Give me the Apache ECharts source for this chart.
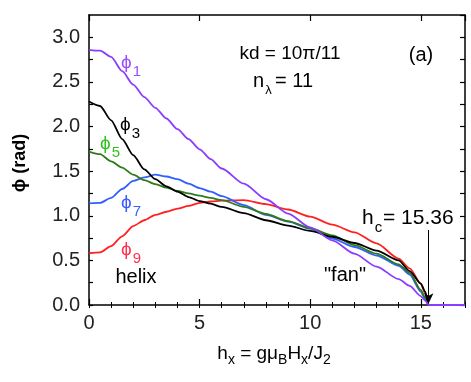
<!DOCTYPE html>
<html>
<head>
<meta charset="utf-8">
<script src="https://cdn.jsdelivr.net/npm/echarts@6/dist/echarts.min.js"></script>
<style>
  html, body { margin: 0; padding: 0; background: #fff; }
  #chart { width: 471px; height: 382px; }
</style>
</head>
<body>
<div id="chart"></div>
<script>
  // field h_x values shared by all curves
  var hGrid = [0, 0.5, 1, 1.5, 2, 2.5, 3, 3.5, 4, 4.5, 5, 5.5, 6, 7, 8, 9, 10, 11, 12, 13, 14, 14.5, 15, 15.2, 15.36, 17];

  // phi_n (rad)
  var phi1 = [2.86, 2.85, 2.78, 2.62, 2.47, 2.33, 2.21, 2.09, 1.97, 1.86, 1.745, 1.635, 1.53, 1.36, 1.185, 1.025, 0.87, 0.725, 0.575, 0.43, 0.29, 0.215, 0.10, 0.05, 0, 0];
  var phi3 = [2.28, 2.23, 2.07, 1.86, 1.68, 1.52, 1.41, 1.33, 1.27, 1.21, 1.165, 1.135, 1.10, 1.03, 0.95, 0.89, 0.83, 0.765, 0.695, 0.61, 0.50, 0.38, 0.24, 0.15, 0, 0];
  var phi5 = [1.72, 1.69, 1.61, 1.54, 1.46, 1.40, 1.355, 1.315, 1.28, 1.25, 1.225, 1.20, 1.175, 1.10, 1.02, 0.94, 0.86, 0.78, 0.67, 0.575, 0.455, 0.36, 0.17, 0.08, 0, 0];
  var phi7 = [1.14, 1.145, 1.20, 1.30, 1.39, 1.43, 1.46, 1.44, 1.41, 1.36, 1.31, 1.27, 1.22, 1.12, 1.01, 0.935, 0.855, 0.745, 0.65, 0.555, 0.44, 0.34, 0.15, 0.07, 0, 0];
  var phi9 = [0.58, 0.59, 0.66, 0.77, 0.885, 0.95, 1.01, 1.045, 1.08, 1.11, 1.145, 1.16, 1.17, 1.175, 1.13, 1.07, 0.99, 0.90, 0.815, 0.69, 0.52, 0.41, 0.24, 0.13, 0, 0];

  var hc = 15.36;
  var font = 'Liberation Sans, Arial, sans-serif';

  function pairs(ys) {
    return hGrid.map(function (h, i) { return [h, ys[i]]; });
  }

  // curve colours, drawn bottom to top
  var curves = [
    { name: 'phi9', data: phi9, color: '#ff2020' },
    { name: 'phi7', data: phi7, color: '#3060ff' },
    { name: 'phi5', data: phi5, color: '#2e7a1c' },
    { name: 'phi3', data: phi3, color: '#000000' },
    { name: 'phi1', data: phi1, color: '#8a3cff' }
  ];

  // label with subscript, placed in pixels
  function subLabel(x, y, main, sub, color, size, subSize) {
    return [
      { type: 'text', x: x, y: y, z: 100,
        style: { text: main, fill: color, font: size + 'px ' + font, textVerticalAlign: 'middle' } },
      { type: 'text', x: x + main.length * size * 0.56 + 1, y: y + size * 0.45, z: 100,
        style: { text: sub, fill: color, font: subSize + 'px ' + font, textVerticalAlign: 'middle' } }
    ];
  }

  var graphics = [];
  graphics = graphics.concat(subLabel(121, 63, 'ϕ', '1', '#9a4dff', 19, 15));
  graphics = graphics.concat(subLabel(120, 125, 'ϕ', '3', '#000', 19, 15));
  graphics = graphics.concat(subLabel(100, 144, 'ϕ', '5', '#30c020', 19, 15));
  graphics = graphics.concat(subLabel(121, 203, 'ϕ', '7', '#3a5cff', 19, 15));
  graphics = graphics.concat(subLabel(121, 250, 'ϕ', '9', '#ff3050', 19, 15));
  graphics = graphics.concat(subLabel(253, 81, 'n', 'λ', '#000', 20, 13));
  graphics = graphics.concat(subLabel(362, 218, 'h', 'c', '#000', 21, 15));
  graphics.push(
    { type: 'text', x: 275, y: 81, z: 100, style: { text: '= 11', fill: '#000', font: '20px ' + font, textVerticalAlign: 'middle' } },
    { type: 'text', x: 383, y: 218, z: 100, style: { text: '= 15.36', fill: '#000', font: '21px ' + font, textVerticalAlign: 'middle' } },
    { type: 'text', x: 290, y: 54, z: 100, style: { text: 'kd = 10π/11', fill: '#000', font: '19px ' + font, align: 'center', textVerticalAlign: 'middle' } },
    { type: 'text', x: 421, y: 55, z: 100, style: { text: '(a)', fill: '#000', font: '20px ' + font, align: 'center', textVerticalAlign: 'middle' } },
    { type: 'text', x: 136, y: 277, z: 100, style: { text: 'helix', fill: '#000', font: '20px ' + font, align: 'center', textVerticalAlign: 'middle' } },
    { type: 'text', x: 345, y: 275, z: 100, style: { text: '"fan"', fill: '#000', font: '20px ' + font, align: 'center', textVerticalAlign: 'middle' } },
    { type: 'text', x: 20, y: 163, rotation: Math.PI / 2, z: 100,
      style: { text: 'ϕ (rad)', fill: '#000', font: 'bold 18px ' + font, align: 'center', textVerticalAlign: 'middle' } },
    { type: 'text', x: 274, y: 354, z: 100,
      style: {
        text: '{m|h}{s|x}{m| = gμ}{s|B}{m|H}{s|x}{m|/J}{s|2}',
        align: 'center', textVerticalAlign: 'middle',
        rich: {
          m: { fontSize: 19, fontFamily: font, fill: '#000', color: '#000' },
          s: { fontSize: 14, fontFamily: font, fill: '#000', color: '#000', padding: [12, 0, 0, 0] }
        }
      } }
  );

  var axisLine = { show: true, onZero: false, lineStyle: { color: '#000', width: 1.5 } };

  var chart = echarts.init(document.getElementById('chart'));
  var option = {
    backgroundColor: '#fff',
    animation: false,
    grid: { left: 89, right: 6, top: 15, bottom: 77 },
    xAxis: [
      { type: 'value', min: 0, max: 17, interval: 5, position: 'bottom',
        axisLine: axisLine, splitLine: { show: false },
        axisTick: { inside: true, length: 6, lineStyle: { color: '#000', width: 1.2 } },
        axisLabel: { margin: 8, fontSize: 20, color: '#222', fontFamily: font, showMaxLabel: false } },
      { type: 'value', min: 0, max: 17, interval: 1, position: 'bottom',
        axisLine: { show: false }, splitLine: { show: false }, axisLabel: { show: false },
        axisTick: { inside: true, length: 3, lineStyle: { color: '#000', width: 1 } } },
      { type: 'value', min: 0, max: 17, interval: 5, position: 'top',
        axisLine: axisLine, splitLine: { show: false }, axisLabel: { show: false },
        axisTick: { inside: true, length: 6, lineStyle: { color: '#000', width: 1.2 } } },
      { type: 'value', min: 0, max: 17, interval: 1, position: 'top',
        axisLine: { show: false }, splitLine: { show: false }, axisLabel: { show: false },
        axisTick: { inside: true, length: 3, lineStyle: { color: '#000', width: 1 } } }
    ],
    yAxis: [
      { type: 'value', min: 0, max: 3.25, interval: 0.25, position: 'left',
        axisLine: axisLine, splitLine: { show: false },
        axisTick: { inside: true, length: 4, lineStyle: { color: '#000', width: 1.2 } },
        axisLabel: { margin: 9, fontSize: 20, color: '#222', fontFamily: font, showMaxLabel: false,
          formatter: function (v) { return Math.abs(v * 2 - Math.round(v * 2)) < 1e-6 ? v.toFixed(1) : ''; } } },
      { type: 'value', min: 0, max: 3.25, interval: 0.25, position: 'right',
        axisLine: axisLine, splitLine: { show: false }, axisLabel: { show: false },
        axisTick: { inside: true, length: 5, lineStyle: { color: '#000', width: 1.2 } } }
    ],
    series: curves.map(function (c, i) {
      var s = {
        name: c.name, type: 'line', xAxisIndex: 0, yAxisIndex: 0,
        data: pairs(c.data), showSymbol: false, smooth: 0.25, smoothMonotone: 'x',
        lineStyle: { color: c.color, width: 1.8 }, itemStyle: { color: c.color }, z: 2 + i
      };
      if (c.name === 'phi1') {
        s.markLine = {
          silent: true, symbol: ['none', 'arrow'], symbolSize: [7, 10],
          label: { show: false },
          lineStyle: { color: '#000', width: 1, type: 'solid' },
          data: [[{ coord: [hc, 0.84] }, { coord: [hc, 0.02] }]]
        };
      }
      return s;
    }),
    graphic: graphics
  };
  chart.setOption(option);
</script>
</body>
</html>
